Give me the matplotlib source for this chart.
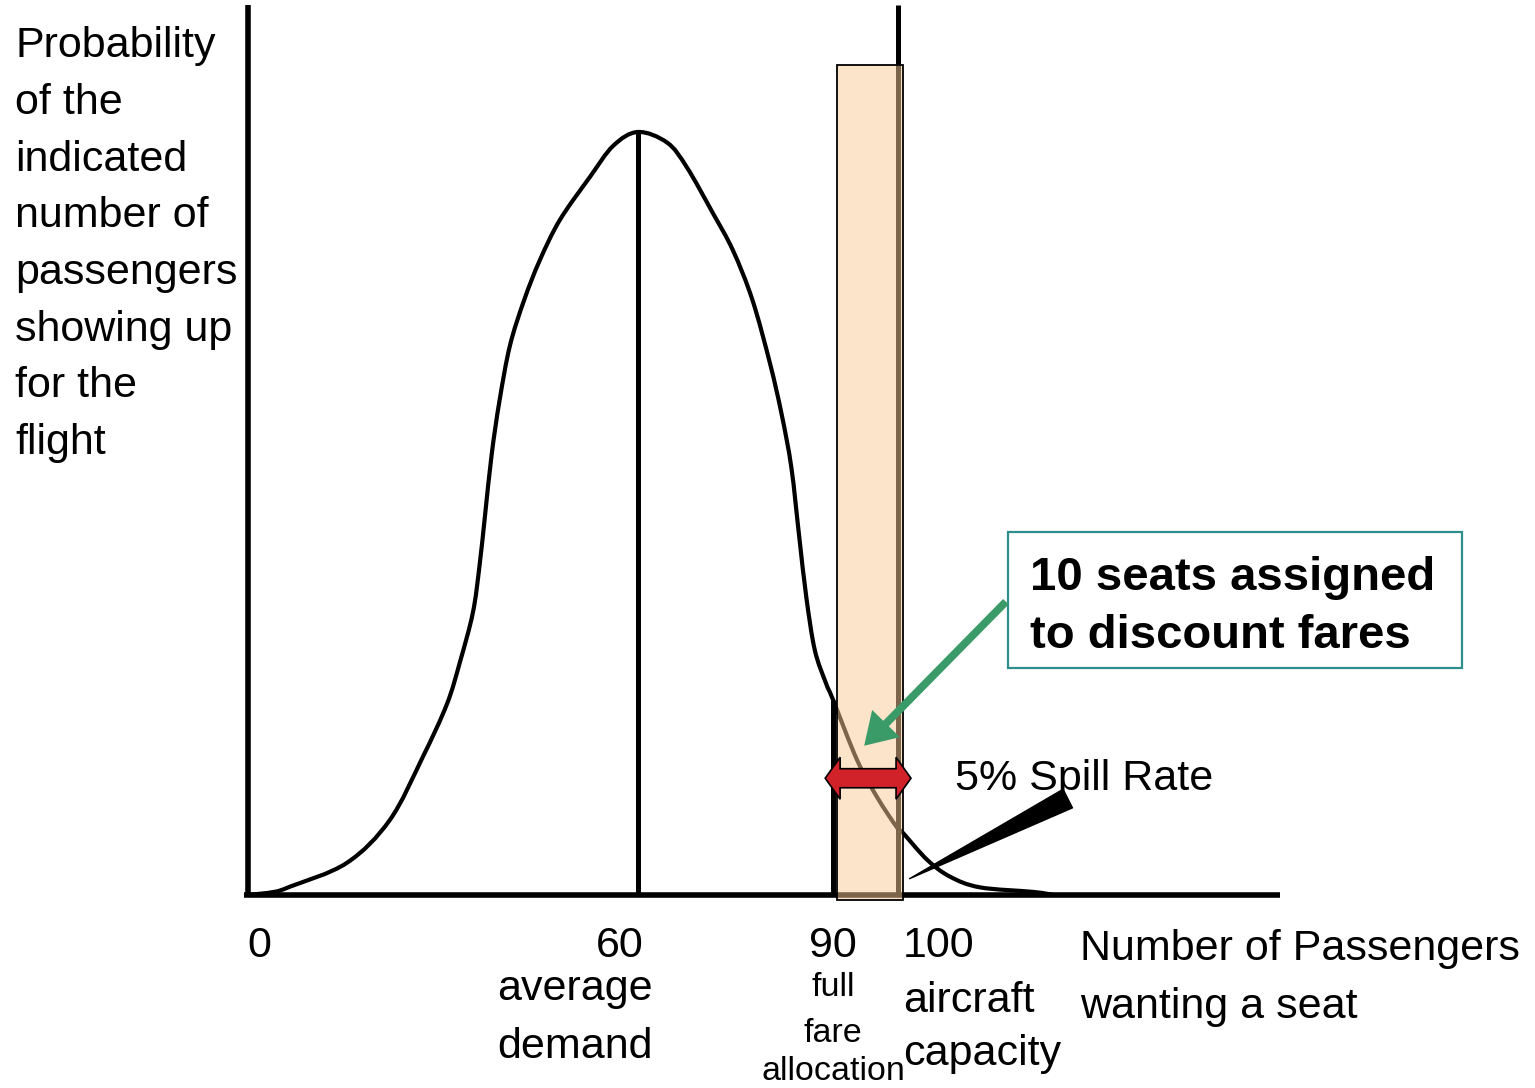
import matplotlib.pyplot as plt
from matplotlib.patches import Rectangle, Polygon, FancyArrowPatch, PathPatch
from matplotlib.path import Path
import numpy as np

plt.rcParams['font.family'] = ['Liberation Sans', 'DejaVu Sans']

# demand curve: number of passengers vs relative probability (peak = 1)
passengers = [0, 4, 6.5, 15.2, 21.8, 26.9, 30.6, 32.6, 34.6, 35.6, 36.5, 37.5,
              38.7, 40.3, 42.5, 44.9, 48.0, 52.6, 56.2, 60, 64.5, 67.5, 71.5,
              74.6, 77.6, 80.3, 82.1, 83.6, 84.8, 85.9, 87.2, 88.9, 90.0, 93.7,
              96.8, 99.8, 100.8, 104.5, 108.0, 112.6, 120.8, 124]
probability = [0, 0.004, 0.011, 0.042, 0.098, 0.181, 0.25, 0.305, 0.37, 0.43,
               0.5, 0.578, 0.648, 0.72, 0.78, 0.832, 0.885, 0.941, 0.982, 1.0,
               0.986, 0.954, 0.894, 0.845, 0.78, 0.697, 0.63, 0.56, 0.47, 0.39,
               0.321, 0.278, 0.256, 0.177, 0.128, 0.089, 0.081, 0.046, 0.024,
               0.010, 0.004, 0.0]

average_demand = 60
full_fare = 90
capacity = 100
tick_labels = ["0", "60", "90", "100"]

ylabel_lines = ["Probability", "of the", "indicated", "number of",
                "passengers", "showing up", "for the", "flight"]


def smooth_path(xs, ys):
    """Catmull-Rom curve through the points, as cubic Bezier segments."""
    pts = np.column_stack([xs, ys])
    ext = np.vstack([pts[0], pts, pts[-1]])
    verts = [pts[0]]
    codes = [Path.MOVETO]
    for i in range(1, len(ext) - 2):
        p0, p1, p2, p3 = ext[i - 1], ext[i], ext[i + 1], ext[i + 2]
        verts += [p1 + (p2 - p0) / 6, p2 - (p3 - p1) / 6, p2]
        codes += [Path.CURVE4] * 3
    return Path(verts, codes)


fig = plt.figure(figsize=(15.35, 10.88), dpi=100)
ax = fig.add_axes([0, 0, 1, 1])
ax.set_xlim(-38.15, 198.0)
ax.set_ylim(-0.253, 1.173)
ax.axis('off')

# curve and reference lines
ax.add_patch(PathPatch(smooth_path(passengers, probability), facecolor='none',
                       edgecolor='black', lw=3, zorder=2))
ax.vlines(average_demand, 0, 1.0, color='black', lw=3.6, zorder=2)
ax.vlines(full_fare, 0, np.interp(full_fare, passengers, probability),
          color='black', lw=3.6, zorder=2)
ax.vlines(capacity, 0, 1.166, color='black', lw=3.6, zorder=2)

# axes
ax.plot([0, 0], [0, 1.166], color='black', lw=4, solid_capstyle='butt', zorder=3)
ax.plot([-0.6, 158.8], [0, 0], color='black', lw=4, solid_capstyle='butt', zorder=3)

# discount seat band
band = Rectangle((full_fare + 0.6, -0.007), capacity + 0.8 - (full_fare + 0.6), 1.095,
                 facecolor=(0.984, 0.796, 0.592, 0.5), edgecolor='black', lw=1.3, zorder=4)
ax.add_patch(band)

# red double arrow across the band
ya, left, right = 0.153, 88.8, 102.0
head_len, head_h, body_h = 2.3, 0.0275, 0.0125
arrow_pts = [(left, ya), (left + head_len, ya + head_h), (left + head_len, ya + body_h),
             (right - head_len, ya + body_h), (right - head_len, ya + head_h),
             (right, ya), (right - head_len, ya - head_h), (right - head_len, ya - body_h),
             (left + head_len, ya - body_h), (left + head_len, ya - head_h)]
ax.add_patch(Polygon(arrow_pts, closed=True, facecolor='#D02228', edgecolor='black',
                     lw=1.2, zorder=6))

# callout box
ax.add_patch(Rectangle((116.9, 0.2975), 69.9, 0.1783, facecolor='white',
                       edgecolor='#2E8E8C', lw=1.6, zorder=5))
ax.text(120.3, 0.3997, "10 seats assigned", fontsize=34, fontweight='bold',
        ha='left', va='baseline', zorder=6)
ax.text(120.3, 0.3237, "to discount fares", fontsize=34, fontweight='bold',
        ha='left', va='baseline', zorder=6)

green = FancyArrowPatch((116.9, 0.387), (94.5, 0.193),
                        arrowstyle='simple,head_length=0.32,head_width=0.4,tail_width=0.08',
                        mutation_scale=70, facecolor='#3A9B68', edgecolor='none', zorder=7)
ax.add_patch(green)

# spill rate label and arrow
ax.text(108.8, 0.1376, "5% Spill Rate", fontsize=31, ha='left', va='baseline')
ax.annotate("", xy=(101.4, 0.0197), xytext=(126.5, 0.128),
            arrowprops=dict(arrowstyle='wedge,tail_width=0.3,shrink_factor=0.5',
                            mutation_scale=50, facecolor='black', edgecolor='black'),
            zorder=3)

# y label
for i, line in enumerate(ylabel_lines):
    ax.text(-35.8, 1.098 - i * 0.0743, line, fontsize=31, ha='left', va='baseline')

# x tick labels and captions
ax.text(1.8, -0.081, tick_labels[0], fontsize=31, ha='center', va='baseline')
ax.text(57.2, -0.081, tick_labels[1], fontsize=31, ha='center', va='baseline')
ax.text(full_fare, -0.081, tick_labels[2], fontsize=31, ha='center', va='baseline')
ax.text(100.8, -0.081, tick_labels[3], fontsize=31, ha='left', va='baseline')

ax.text(50.3, -0.138, "average", fontsize=31, ha='center', va='baseline')
ax.text(50.3, -0.214, "demand", fontsize=31, ha='center', va='baseline')

ax.text(full_fare, -0.133, "full", fontsize=24.5, ha='center', va='baseline')
ax.text(full_fare, -0.193, "fare", fontsize=24.5, ha='center', va='baseline')
ax.text(full_fare, -0.242, "allocation", fontsize=24.5, ha='center', va='baseline')

ax.text(100.8, -0.153, "aircraft", fontsize=31, ha='left', va='baseline')
ax.text(100.8, -0.223, "capacity", fontsize=31, ha='left', va='baseline')

ax.text(128.0, -0.085, "Number of Passengers", fontsize=31, ha='left', va='baseline')
ax.text(128.0, -0.161, "wanting a seat", fontsize=31, ha='left', va='baseline')

fig.savefig("out.png", dpi=100)
